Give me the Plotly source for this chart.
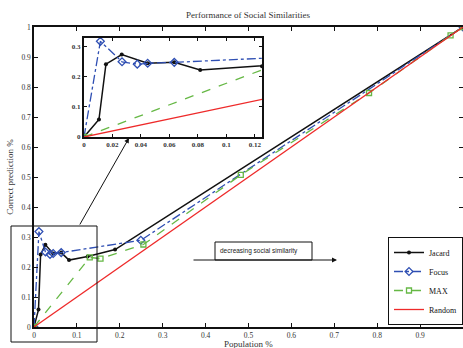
import plotly.graph_objects as go

# ---- data ----
jac_x = [0, 0.0105, 0.0154, 0.0265, 0.0447, 0.0634, 0.0816, 0.125, 0.189, 1.0]
jac_y = [0, 0.058, 0.242, 0.274, 0.245, 0.248, 0.223, 0.235, 0.258, 1.0]

foc_x = [0, 0.0115, 0.0267, 0.0374, 0.0447, 0.0634, 0.249, 1.0]
foc_y = [0, 0.318, 0.250, 0.242, 0.245, 0.248, 0.289, 1.0]

max_x = [0, 0.130, 0.155, 0.255, 0.482, 0.781, 0.971, 1.0]
max_y = [0, 0.232, 0.228, 0.275, 0.507, 0.780, 0.972, 1.0]

rnd_x = [0, 1]
rnd_y = [0, 1]

main_ticks = [0, 0.1, 0.2, 0.3, 0.4, 0.5, 0.6, 0.7, 0.8, 0.9, 1]
inset_xticks = [0, 0.02, 0.04, 0.06, 0.08, 0.1, 0.12]
inset_yticks = [0, 0.1, 0.2, 0.3]

BLACK = "#111111"
BLUE = "#2f4fb3"
GREEN = "#66b845"
RED = "#ee2a2a"
SERIF = "Liberation Serif"

series = [
    ("Jacard", jac_x, jac_y, dict(color=BLACK, width=1.5, dash="solid"),
     dict(symbol="circle", size=4, color=BLACK)),
    ("Focus", foc_x, foc_y, dict(color=BLUE, width=1.3, dash="dashdot"),
     dict(symbol="diamond-open", size=6, color=BLUE, line=dict(width=1.3, color=BLUE))),
    ("MAX", max_x, max_y, dict(color=GREEN, width=1.3, dash="dash"),
     dict(symbol="square-open", size=5, color=GREEN, line=dict(width=1.3, color=GREEN))),
    ("Random", rnd_x, rnd_y, dict(color=RED, width=1.3, dash="solid"), None),
]

fig = go.Figure()
for name, xs, ys, ln, mk in series:
    fig.add_trace(go.Scatter(
        x=xs, y=ys, name=name, mode="lines+markers" if mk else "lines",
        line=ln, marker=mk, xaxis="x", yaxis="y"))
for name, xs, ys, ln, mk in series:
    fig.add_trace(go.Scatter(
        x=xs, y=ys, name=name, mode="lines+markers" if mk else "lines",
        line=ln, marker=mk, xaxis="x2", yaxis="y2", showlegend=False))

W, H = 463, 348
L, R, T, B = 34, 0, 27, 21
pw, ph = W - L - R, H - T - B


def px(xp):
    return (xp - L) / pw


def py(yp):
    return (H - B - yp) / ph


axis_common = dict(showline=True, linecolor=BLACK, mirror="ticks", ticks="inside",
                   tickcolor=BLACK, showgrid=False, zeroline=False)

fig.update_layout(
    width=W, height=H,
    margin=dict(l=L, r=R, t=T, b=B),
    paper_bgcolor="white", plot_bgcolor="white",
    font=dict(family=SERIF, size=8, color="#333333"),
    title=dict(text="Performance of Social Similarities", x=(248 - 0) / W, xanchor="center",
               y=1 - 15 / H, yanchor="middle", font=dict(family=SERIF, size=9, color="#333333")),
    xaxis=dict(range=[0, 1], tickvals=main_ticks, ticklen=4, linewidth=1.5,
               tickfont=dict(family=SERIF, size=7.5), domain=[0, 1],
               automargin=False, **axis_common),
    yaxis=dict(range=[0, 1], tickvals=main_ticks, ticklen=4, linewidth=1.5,
               tickfont=dict(family=SERIF, size=7.5), domain=[0, 1],
               title=dict(text="Correct prediction %", standoff=6, font=dict(family=SERIF, size=9)),
               automargin=False, **axis_common),
    xaxis2=dict(range=[0, 0.125], tickvals=inset_xticks, ticklen=3, linewidth=2,
                domain=[px(84), px(262)], anchor="y2",
                tickfont=dict(family=SERIF, size=7, weight="bold"), **axis_common),
    yaxis2=dict(range=[0, 0.329], tickvals=inset_yticks, ticklen=3, linewidth=2,
                domain=[py(137), py(38)], anchor="x2",
                tickfont=dict(family=SERIF, size=7, weight="bold"), **axis_common),
    legend=dict(x=1, xanchor="right", y=py(325), yanchor="bottom",
                bgcolor="white", bordercolor=BLACK, borderwidth=1,
                font=dict(family=SERIF, size=8, color="#111111"),
                tracegroupgap=0, itemwidth=30),
    showlegend=True,
)

# x axis title as annotation (placed just below tick labels)
fig.add_annotation(xref="paper", yref="paper", x=px(248), y=py(343.5), xanchor="center",
                   yanchor="middle", text="Population %", showarrow=False,
                   font=dict(family=SERIF, size=9, color="#333333"))

# gray background of inset
fig.add_shape(type="rect", xref="x2 domain", yref="y2 domain", x0=0, x1=1, y0=0, y1=1,
              fillcolor="#e6e6e6", line=dict(width=0), layer="below")
# zoom rectangle on main plot
fig.add_shape(type="rect", xref="paper", yref="paper", x0=px(11), x1=px(97),
              y0=py(342), y1=py(226), line=dict(color=BLACK, width=1))
# arrow from rectangle to inset
fig.add_annotation(xref="paper", yref="paper", x=px(129), y=py(138), ax=79 - 129, ay=226 - 138,
                   text="", showarrow=True, arrowhead=2, arrowsize=1, arrowwidth=1,
                   arrowcolor=BLACK)
# decreasing social similarity box & arrow
fig.add_shape(type="rect", xref="paper", yref="paper", x0=px(215), x1=px(312),
              y0=py(260), y1=py(242), line=dict(color=BLACK, width=1), fillcolor="white")
fig.add_annotation(xref="paper", yref="paper", x=px(337), y=py(260), ax=192 - 337, ay=0,
                   text="", showarrow=True, arrowhead=2, arrowsize=1, arrowwidth=1,
                   arrowcolor=BLACK)
fig.add_annotation(xref="paper", yref="paper", x=px(218), y=py(251), xanchor="left",
                   yanchor="middle", text="decreasing social similarity", showarrow=False,
                   font=dict(family="Liberation Sans", size=6.5, color="#222222"))

fig.write_html("out.html")
